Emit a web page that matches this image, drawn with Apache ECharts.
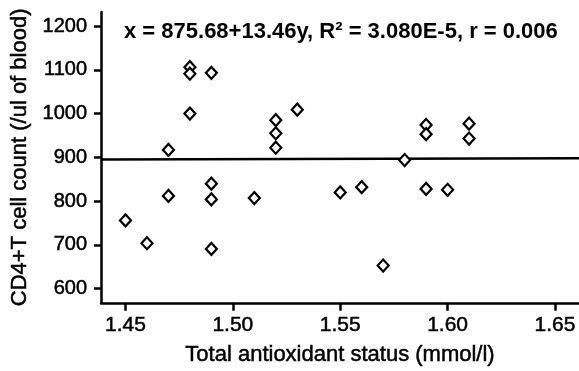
<!DOCTYPE html>
<html>
<head>
<meta charset="utf-8">
<script src="https://cdn.jsdelivr.net/npm/echarts@6/dist/echarts.min.js"></script>
<style>
  html, body { margin: 0; padding: 0; background: #fff; }
  #chart { width: 579px; height: 371px; }
</style>
</head>
<body>
<div id="chart"></div>
<script>
  // total antioxidant status (mmol/l) vs CD4+T cell count
  const tasValues = [1.45, 1.46, 1.47, 1.47, 1.48, 1.48, 1.48, 1.49, 1.49, 1.49, 1.49, 1.51,
    1.52, 1.52, 1.52, 1.53, 1.55, 1.56, 1.57, 1.58, 1.59, 1.59, 1.59, 1.60, 1.61, 1.61]
  const cd4Values = [756, 704, 812, 917, 1106, 1091, 1000, 1093, 840, 804, 691, 807,
    985, 955, 922, 1009, 820, 832, 653, 894, 974, 953, 828, 826, 977, 943]
  // regression line endpoints
  const fitX = [1.4386, 1.6612]
  const fitY = [895, 898]

  const xTicks = [1.45, 1.50, 1.55, 1.60, 1.65]
  const yTicks = [600, 700, 800, 900, 1000, 1100, 1200]

  const font = 'Liberation Sans, Arial, sans-serif'
  const points = tasValues.map((x, i) => [x, cd4Values[i]])

  // the scanned text is a bit heavier than plain regular
  const heavy = { fontFamily: font, color: '#000', textBorderColor: '#000', textBorderWidth: 0.5 }

  const chart = echarts.init(document.getElementById('chart'))
  chart.setOption({
    animation: false,
    textStyle: { fontFamily: font, color: '#000' },
    title: {
      text: 'x = 875.68+13.46y, R² = 3.080E-5, r = 0.006',
      left: 124,
      top: 21,
      padding: 0,
      textStyle: { fontFamily: font, fontSize: 22, fontWeight: 'bold', color: '#000' }
    },
    grid: { left: 101, right: 0, top: 12, bottom: 68 },
    xAxis: {
      type: 'value',
      min: 1.4386,
      max: 1.6612,
      name: 'Total antioxidant status (mmol/l)',
      nameLocation: 'middle',
      nameGap: 41,
      nameTextStyle: Object.assign({ fontSize: 22 }, heavy),
      splitLine: { show: false },
      axisLine: { lineStyle: { color: '#000', width: 2.5 } },
      axisTick: { length: 8, lineStyle: { color: '#000', width: 2.5 }, customValues: xTicks },
      axisLabel: Object.assign({
        customValues: xTicks,
        margin: 12,
        fontSize: 21,
        formatter: v => v.toFixed(2)
      }, heavy)
    },
    yAxis: {
      type: 'value',
      min: 568,
      max: 1232,
      name: 'CD4+T cell count (/ul of blood)',
      nameLocation: 'middle',
      nameGap: 70,
      nameTextStyle: Object.assign({ fontSize: 22 }, heavy),
      splitLine: { show: false },
      axisLine: { lineStyle: { color: '#000', width: 2.5 } },
      axisTick: { length: 7, lineStyle: { color: '#000', width: 2.5 }, customValues: yTicks },
      axisLabel: Object.assign({
        customValues: yTicks,
        margin: 14,
        fontSize: 20,
        formatter: v => String(v)
      }, heavy)
    },
    series: [
      {
        type: 'line',
        data: fitX.map((x, i) => [x, fitY[i]]),
        symbol: 'none',
        lineStyle: { color: '#000', width: 2.5 },
        z: 1
      },
      {
        type: 'scatter',
        data: points,
        symbol: 'diamond',
        symbolSize: [11, 12],
        itemStyle: { color: '#fff', borderColor: '#000', borderWidth: 2.2, opacity: 1 },
        z: 3
      }
    ]
  })
</script>
</body>
</html>
